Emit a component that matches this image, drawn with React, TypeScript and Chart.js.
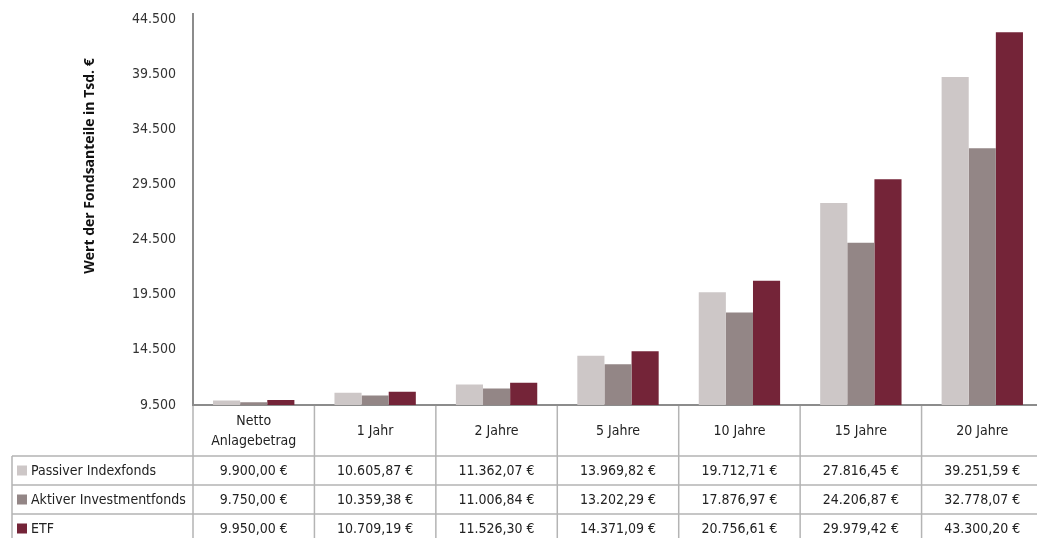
import React, { useEffect, useRef } from "react";
import { Chart, registerables } from "chart.js";

Chart.register(...registerables);

const categories: (string | string[])[] = [["Netto", "Anlagebetrag"], "1 Jahr", "2 Jahre", "5 Jahre", "10 Jahre", "15 Jahre", "20 Jahre"];
const seriesNames = ["Passiver Indexfonds", "Aktiver Investmentfonds", "ETF"];
const passiv = [9900.0, 10605.87, 11362.07, 13969.82, 19712.71, 27816.45, 39251.59];
const aktiv = [9750.0, 10359.38, 11006.84, 13202.29, 17876.97, 24206.87, 32778.07];
const etf = [9950.0, 10709.19, 11526.3, 14371.09, 20756.61, 29979.42, 43300.2];
const seriesColors = ["#cdc7c7", "#938686", "#742438"];
const yMin = 9500;
const yMax = 44500;
const yStep = 5000;
const yTitle = "Wert der Fondsanteile in Tsd. €";

const FONT = '"Liberation Sans Narrow", "DejaVu Sans Condensed", sans-serif';

function fmtDE(v: number, dec: number): string {
  const fixed = v.toFixed(dec);
  const [i, f] = fixed.split(".");
  const ii = i.replace(/\B(?=(\d{3})+(?!\d))/g, ".");
  return f ? ii + "," + f : ii;
}

const tablePlugin = {
  id: "dataTable",
  afterDraw(chart: any) {
    const ctx = chart.ctx as CanvasRenderingContext2D;
    const area = chart.chartArea;
    const n = categories.length;
    const colW = (area.right - area.left) / n;
    const headerTop = area.bottom;
    const headerBottom = headerTop + 51;
    const rowH = 29;
    const tableLeft = 12;
    const bottom = chart.height;
    const data = [passiv, aktiv, etf];
    ctx.save();
    // y axis line
    ctx.strokeStyle = "#8c8c8c";
    ctx.lineWidth = 2;
    ctx.beginPath();
    ctx.moveTo(area.left, area.top - 6);
    ctx.lineTo(area.left, area.bottom + 1);
    ctx.stroke();

    // table lines
    ctx.strokeStyle = "#b4b4b4";
    ctx.lineWidth = 1.5;
    ctx.beginPath();
    for (let c = 0; c <= n; c++) {
      const x = area.left + c * colW;
      ctx.moveTo(x, headerTop + 1);
      ctx.lineTo(x, bottom);
    }
    ctx.moveTo(tableLeft, headerBottom);
    ctx.lineTo(tableLeft, bottom);
    for (let r = 0; r < 3; r++) {
      const y = headerBottom + r * rowH;
      ctx.moveTo(tableLeft, y);
      ctx.lineTo(area.right, y);
    }
    ctx.stroke();

    // header labels
    ctx.fillStyle = "#222";
    ctx.font = "14px " + FONT;
    ctx.textAlign = "center";
    ctx.textBaseline = "middle";
    categories.forEach((cat, c) => {
      const cx = area.left + (c + 0.5) * colW;
      const lines = Array.isArray(cat) ? cat : [cat];
      const mid = (headerTop + headerBottom) / 2 + 1;
      const lh = 20;
      lines.forEach((ln, k) => {
        ctx.fillText(ln, cx, mid + (k - (lines.length - 1) / 2) * lh);
      });
    });

    // rows
    seriesNames.forEach((name, r) => {
      const yTop = headerBottom + r * rowH;
      const cy = yTop + rowH / 2 + 1;
      ctx.fillStyle = seriesColors[r];
      ctx.fillRect(17, cy - 6, 10, 10);
      ctx.fillStyle = "#222";
      ctx.textAlign = "left";
      ctx.fillText(name, 31, cy);
      ctx.textAlign = "center";
      data[r].forEach((v, c) => {
        const cx = area.left + (c + 0.5) * colW;
        ctx.fillText(fmtDE(v, 2) + " €", cx, cy);
      });
    });

    // y title
    ctx.save();
    ctx.translate(90, 166);
    ctx.rotate(-Math.PI / 2);
    ctx.font = 'bold 14px "Open Sans", "DejaVu Sans", sans-serif';
    ctx.fillStyle = "#111";
    ctx.textAlign = "center";
    ctx.textBaseline = "middle";
    ctx.fillText(yTitle, 0, 0);
    ctx.restore();

    ctx.restore();
  },
};

export default function App() {
  const ref = useRef<HTMLCanvasElement>(null);
  useEffect(() => {
    if (!ref.current) return;
    const chart = new Chart(ref.current, {
      type: "bar",
      data: {
        labels: categories as any,
        datasets: [
          { label: seriesNames[0], data: passiv, backgroundColor: seriesColors[0] },
          { label: seriesNames[1], data: aktiv, backgroundColor: seriesColors[1] },
          { label: seriesNames[2], data: etf, backgroundColor: seriesColors[2] },
        ],
      },
      options: {
        responsive: false,
        animation: false,
        devicePixelRatio: 1,
        layout: { padding: { left: 0, right: 7, top: 19, bottom: 133 } },
        plugins: { legend: { display: false }, tooltip: { enabled: false } },
        datasets: { bar: { categoryPercentage: 0.67, barPercentage: 1.0 } },
        scales: {
          x: {
            grid: { display: false, drawTicks: false },
            border: { display: true, color: "#8c8c8c", width: 2 },
            ticks: { display: false },
            afterFit: (s: any) => {
              s.height = 0;
              s.paddingLeft = 0;
              s.paddingRight = 0;
            },
          },
          y: {
            min: yMin,
            max: yMax,
            grid: { display: false, drawTicks: false },
            border: { display: false },
            ticks: {
              stepSize: yStep,
              padding: 17,
              color: "#333",
              font: { family: FONT, size: 14 },
              callback: (v: any) => fmtDE(Number(v), 0),
            },
            afterFit: (s: any) => {
              s.width = 193;
              s.paddingTop = 0;
              s.paddingBottom = 0;
            },
          },
        },
      },
      plugins: [tablePlugin],
    });
    return () => chart.destroy();
  }, []);
  return (
    <div style={{ position: "fixed", left: 0, top: 0, width: 1050, height: 538, background: "#fff" }}>
      <canvas ref={ref} width={1050} height={538} style={{ display: "block" }} />
    </div>
  );
}
